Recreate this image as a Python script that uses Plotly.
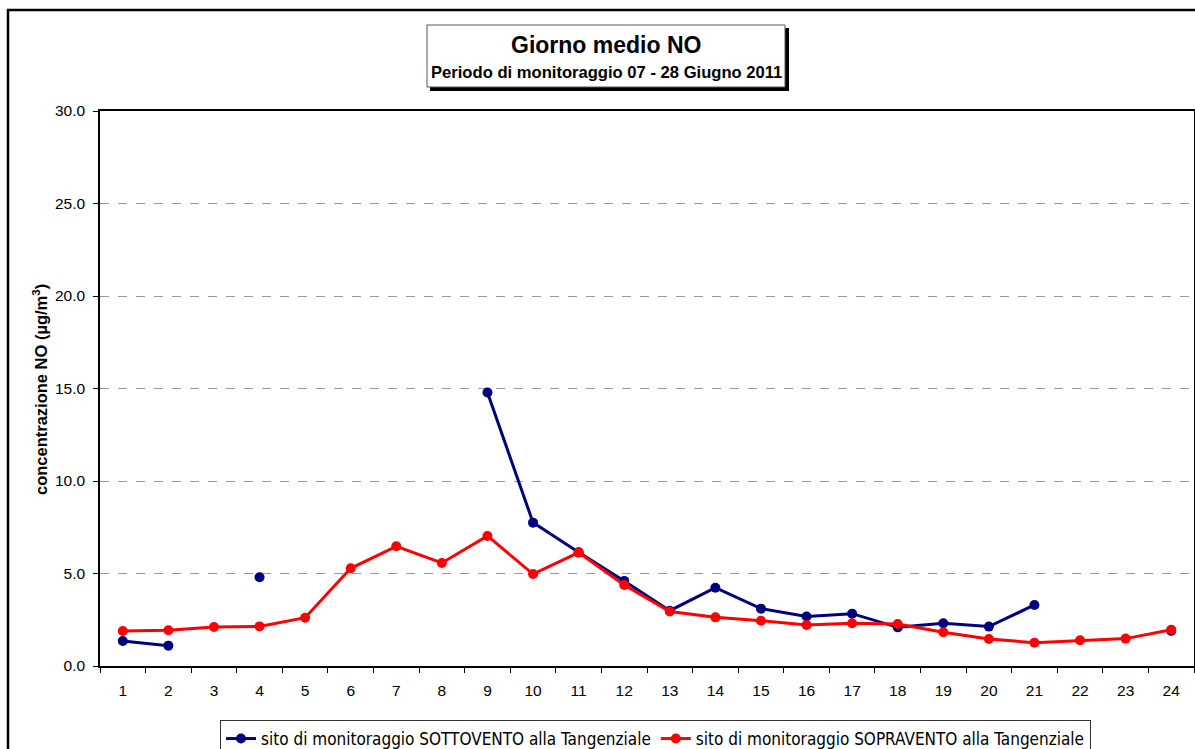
import plotly.graph_objects as go

# ore del giorno medio
hours = [str(h) for h in range(1, 25)]

sottovento = [1.35, 1.10, None, 4.80, None, None, None, None, 14.78, 7.75,
              6.15, 4.60, 2.99, 4.23, 3.10, 2.68, 2.83, 2.09, 2.31, 2.13,
              3.30, None, None, 1.90]
sopravento = [1.89, 1.93, 2.11, 2.14, 2.61, 5.28, 6.47, 5.57, 7.03, 4.97,
              6.13, 4.38, 2.95, 2.63, 2.45, 2.22, 2.31, 2.27, 1.82, 1.46,
              1.26, 1.39, 1.48, 1.96]

y_ticks = [0, 5, 10, 15, 20, 25, 30]

W, H = 1195, 749
L, R, T, B = 100, 1194, 111, 666  # plot area in pixels


def px(x):
    return (x - L) / (R - L)


def py(y):
    return (B - y) / (B - T)


fig = go.Figure()
fig.add_trace(go.Scatter(
    x=hours, y=sottovento, mode="lines+markers",
    name="sito di monitoraggio SOTTOVENTO alla Tangenziale",
    line=dict(color="#000080", width=3),
    marker=dict(color="#000080", size=10),
))
fig.add_trace(go.Scatter(
    x=hours, y=sopravento, mode="lines+markers",
    name="sito di monitoraggio SOPRAVENTO alla Tangenziale",
    line=dict(color="#FF0000", width=3),
    marker=dict(color="#FF0000", size=10),
))

shapes = [
    # cornice esterna
    dict(type="rect", xref="paper", yref="paper",
         x0=px(8), x1=px(1260), y0=py(800), y1=py(10),
         line=dict(color="black", width=2.5), fillcolor="rgba(0,0,0,0)", layer="below"),
    # riquadro titolo con ombra
    dict(type="rect", xref="paper", yref="paper",
         x0=px(430), x1=px(789), y0=py(91), y1=py(28),
         line=dict(width=0), fillcolor="black"),
    dict(type="rect", xref="paper", yref="paper",
         x0=px(427), x1=px(785), y0=py(87), y1=py(25),
         line=dict(color="#555555", width=1), fillcolor="white"),
]

annotations = [
    dict(text="<b>Giorno medio NO</b>", xref="paper", yref="paper",
         x=px(606), y=py(45), showarrow=False, xanchor="center", yanchor="middle",
         font=dict(family="Liberation Sans, Arial", size=23, color="black")),
    dict(text="<b>Periodo di monitoraggio 07 - 28 Giugno 2011</b>", xref="paper", yref="paper",
         x=px(606), y=py(72), showarrow=False, xanchor="center", yanchor="middle",
         font=dict(family="Liberation Sans, Arial", size=16.6, color="black")),
    dict(text="<b>concentrazione NO (µg/m<sup>3</sup>)</b>", xref="paper", yref="paper",
         x=px(40), y=py(390), showarrow=False, textangle=-90,
         xanchor="center", yanchor="middle",
         font=dict(family="Liberation Sans, Arial", size=16.5, color="black")),
]

fig.update_layout(
    width=W, height=H,
    margin=dict(l=L, r=W - R, t=T, b=H - B, autoexpand=False),
    paper_bgcolor="white", plot_bgcolor="white",
    font=dict(family="Liberation Sans, Arial", size=15, color="black"),
    showlegend=True,
    legend=dict(
        orientation="h", x=px(220), y=py(720), xanchor="left", yanchor="top",
        bordercolor="#333333", borderwidth=1, bgcolor="white",
        font=dict(family="DejaVu Sans Condensed, Liberation Sans", size=17),
        itemwidth=30, tracegroupgap=0,
    ),
    shapes=shapes,
    annotations=annotations,
    xaxis=dict(
        type="category", range=[-0.5, 23.5], tickson="boundaries",
        ticks="outside", ticklen=5, tickcolor="black", ticklabelstandoff=10,
        showline=True, linecolor="black", linewidth=1.5, mirror=True,
        showgrid=False, tickfont=dict(size=15.5),
    ),
    yaxis=dict(
        range=[0, 30], tickvals=y_ticks, tickformat=".1f",
        ticks="outside", ticklen=5, tickcolor="black", ticklabelstandoff=5,
        showline=True, linecolor="black", linewidth=1.5, mirror=True,
        showgrid=True, gridcolor="#999999", griddash="dash", gridwidth=1,
        zeroline=False, tickfont=dict(size=15.5),
    ),
)

fig.write_html(
    "out.html",
    config={"displayModeBar": False},
    post_script="document.body.style.margin='0';document.body.style.overflow='hidden';",
)
